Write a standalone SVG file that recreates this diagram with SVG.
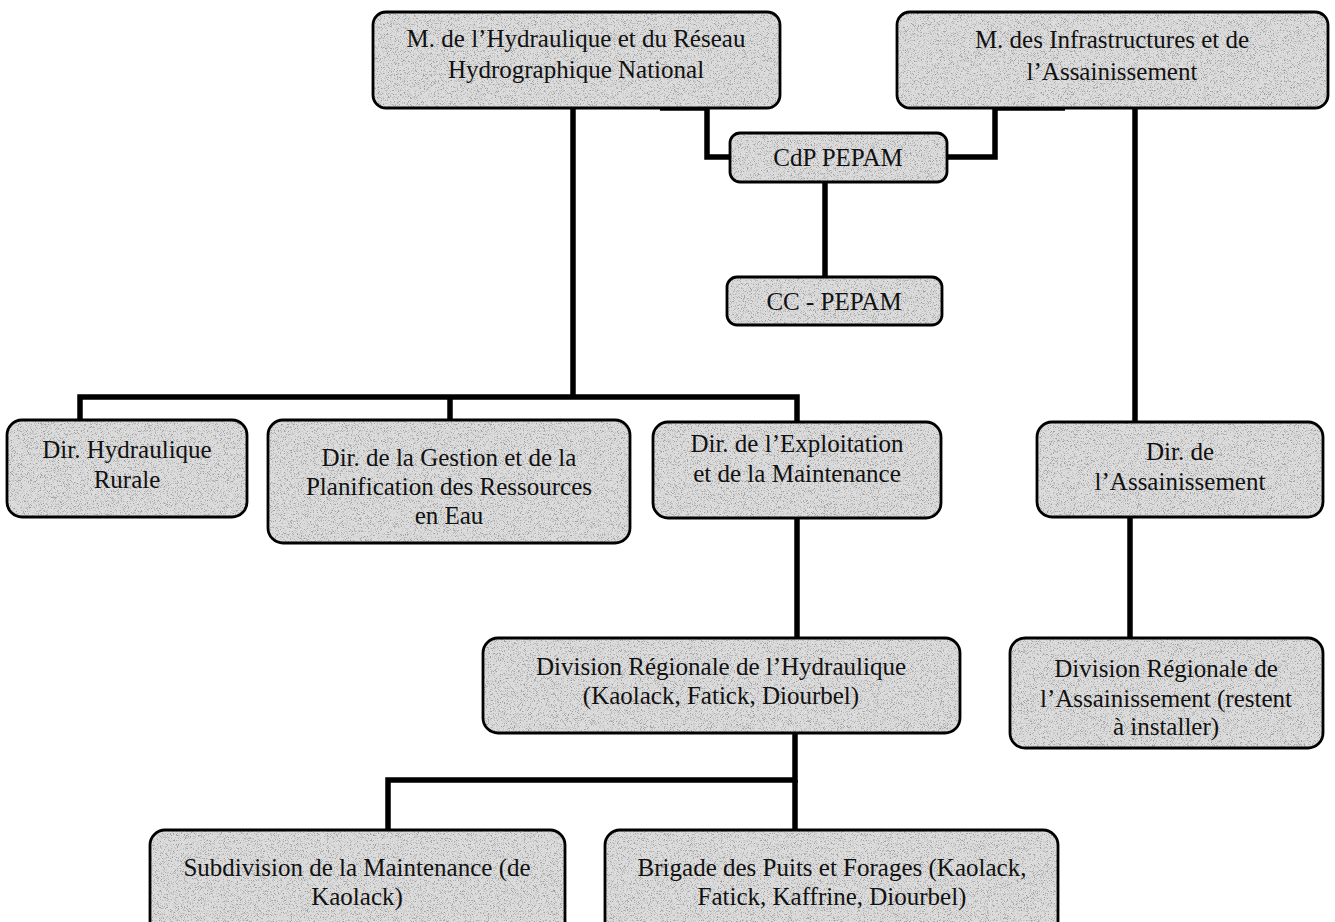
<svg xmlns="http://www.w3.org/2000/svg" width="1335" height="922" viewBox="0 0 1335 922">
<style>
.bg{fill:#dcdcdc;}
.bd{fill:none;stroke:#000;stroke-width:2.8;}
.t{font-family:"Liberation Serif","Times New Roman",serif;font-size:25px;fill:#111;text-anchor:middle;}
.c{fill:none;stroke:#000;stroke-width:5.5;stroke-linejoin:miter;stroke-linecap:butt;}
</style>
<defs>
<filter id="grain" x="0" y="0" width="100%" height="100%">
<feTurbulence type="fractalNoise" baseFrequency="1.3" numOctaves="2" seed="7" result="noise"/>
<feColorMatrix in="noise" type="matrix" values="0 0 0 0 0.35  0 0 0 0 0.35  0 0 0 0 0.35  5 0 0 0 -2.6" result="specks"/>
<feComposite in="specks" in2="SourceGraphic" operator="in" result="sp"/>
<feMerge><feMergeNode in="SourceGraphic"/><feMergeNode in="sp"/></feMerge>
</filter>
</defs>
<rect width="1335" height="922" fill="#fff"/>
<g id="connectors">
<path class="c" d="M573 108 V397"/>
<path class="c" d="M80 420 V397 H797 V422"/>
<path class="c" d="M450 397 V420"/>
<path class="c" d="M660 108 H707 V157 H730"/>
<path class="c" d="M1065 108 H995 V157 H947"/>
<path class="c" d="M825 182 V277"/>
<path class="c" d="M1135 108 V422"/>
<path class="c" d="M1130 517 V638"/>
<path class="c" d="M797 518 V638"/>
<path class="c" d="M795 733 V780 H388 V830"/>
<path class="c" d="M795 780 V830"/>
</g>
<g id="n-mhydraulique">
<rect class="bg" filter="url(#grain)" x="373" y="12" width="407" height="96" rx="13"/>
<rect class="bd" x="373" y="12" width="407" height="96" rx="13"/>
<text class="t" x="576" y="47">M. de l’Hydraulique et du Réseau</text>
<text class="t" x="576" y="78">Hydrographique National</text>
</g>
<g id="n-minfra">
<rect class="bg" filter="url(#grain)" x="897" y="12" width="431" height="96" rx="13"/>
<rect class="bd" x="897" y="12" width="431" height="96" rx="13"/>
<text class="t" x="1112" y="48">M. des Infrastructures et de</text>
<text class="t" x="1112" y="80">l’Assainissement</text>
</g>
<g id="n-cdp">
<rect class="bg" filter="url(#grain)" x="730" y="133" width="217" height="49" rx="10"/>
<rect class="bd" x="730" y="133" width="217" height="49" rx="10"/>
<text class="t" x="838" y="166">CdP PEPAM</text>
</g>
<g id="n-cc">
<rect class="bg" filter="url(#grain)" x="727" y="277" width="215" height="48" rx="10"/>
<rect class="bd" x="727" y="277" width="215" height="48" rx="10"/>
<text class="t" x="834" y="310">CC - PEPAM</text>
</g>
<g id="n-dhr">
<rect class="bg" filter="url(#grain)" x="7" y="420" width="240" height="97" rx="15"/>
<rect class="bd" x="7" y="420" width="240" height="97" rx="15"/>
<text class="t" x="127" y="458">Dir. Hydraulique</text>
<text class="t" x="127" y="488">Rurale</text>
</g>
<g id="n-dgpre">
<rect class="bg" filter="url(#grain)" x="268" y="420" width="362" height="123" rx="15"/>
<rect class="bd" x="268" y="420" width="362" height="123" rx="15"/>
<text class="t" x="449" y="466">Dir. de la Gestion et de la</text>
<text class="t" x="449" y="495">Planification des Ressources</text>
<text class="t" x="449" y="524">en Eau</text>
</g>
<g id="n-dem">
<rect class="bg" filter="url(#grain)" x="653" y="422" width="288" height="96" rx="15"/>
<rect class="bd" x="653" y="422" width="288" height="96" rx="15"/>
<text class="t" x="797" y="452">Dir. de l’Exploitation</text>
<text class="t" x="797" y="482">et de la Maintenance</text>
</g>
<g id="n-dass">
<rect class="bg" filter="url(#grain)" x="1037" y="422" width="286" height="95" rx="15"/>
<rect class="bd" x="1037" y="422" width="286" height="95" rx="15"/>
<text class="t" x="1180" y="460">Dir. de</text>
<text class="t" x="1180" y="490">l’Assainissement</text>
</g>
<g id="n-drh">
<rect class="bg" filter="url(#grain)" x="483" y="638" width="477" height="95" rx="15"/>
<rect class="bd" x="483" y="638" width="477" height="95" rx="15"/>
<text class="t" x="721" y="675">Division Régionale de l’Hydraulique</text>
<text class="t" x="721" y="704">(Kaolack, Fatick, Diourbel)</text>
</g>
<g id="n-dra">
<rect class="bg" filter="url(#grain)" x="1010" y="638" width="313" height="110" rx="15"/>
<rect class="bd" x="1010" y="638" width="313" height="110" rx="15"/>
<text class="t" x="1166" y="677">Division Régionale de</text>
<text class="t" x="1166" y="707">l’Assainissement (restent</text>
<text class="t" x="1166" y="735">à installer)</text>
</g>
<g id="n-sub">
<rect class="bg" filter="url(#grain)" x="150" y="830" width="415" height="110" rx="15"/>
<rect class="bd" x="150" y="830" width="415" height="110" rx="15"/>
<text class="t" x="357" y="876">Subdivision de la Maintenance (de</text>
<text class="t" x="357" y="905">Kaolack)</text>
</g>
<g id="n-bpf">
<rect class="bg" filter="url(#grain)" x="605" y="830" width="453" height="110" rx="15"/>
<rect class="bd" x="605" y="830" width="453" height="110" rx="15"/>
<text class="t" x="832" y="876">Brigade des Puits et Forages (Kaolack,</text>
<text class="t" x="832" y="905">Fatick, Kaffrine, Diourbel)</text>
</g>
</svg>
